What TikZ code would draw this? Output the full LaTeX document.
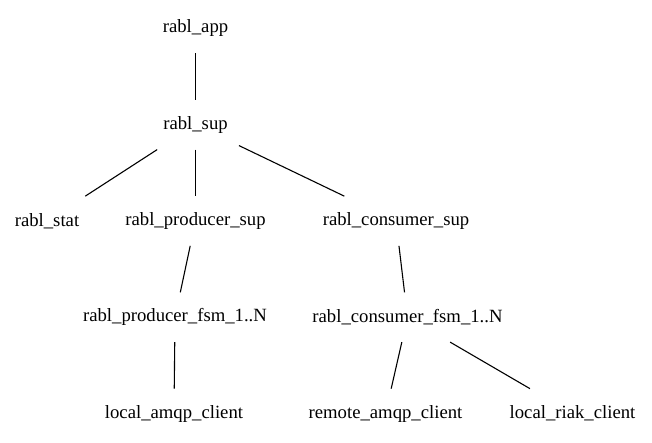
\documentclass[tikz,border=0pt]{standalone}
\usepackage{fontspec}
\setmainfont{Liberation Serif}
\usepackage{tikz}

\tikzset{proc/.style={rectangle, minimum height=48.6pt, inner xsep=10.7pt,
  font=\fontsize{18.7}{22}\selectfont}}

\begin{document}
\begin{tikzpicture}[-,auto,node distance=96.25pt,line width=1.1pt,x=1pt,y=1pt]
\useasboundingbox (0,0) rectangle (652,-443);

\node[proc] (app) at (195.5,-28.5) {rabl\_app};
\node[proc] (sup) [below of=app] {rabl\_sup};

\node[proc] (stat)    [below of=sup, xshift=-148.5pt] {rabl\_stat};
\node[proc] (prodsup) [below of=sup]                  {rabl\_producer\_sup};
\node[proc] (conssup) [below of=sup, xshift=200.5pt]  {rabl\_consumer\_sup};

\node[proc] (prodfsm) [below of=prodsup, xshift=-20.5pt] {rabl\_producer\_fsm\_1..N};
\node[proc] (consfsm) [below of=conssup, xshift=11.5pt]  {rabl\_consumer\_fsm\_1..N};

\node[proc] (lamqp) [below of=prodfsm, xshift=-1pt]  {local\_amqp\_client};
\node[proc] (ramqp) [below of=consfsm, xshift=-22pt] {remote\_amqp\_client};
\node[proc] (lriak) [below of=consfsm, xshift=165pt] {local\_riak\_client};

\path
	(app) edge (sup)
	(sup) edge (stat)
	(sup) edge (prodsup)
	(sup) edge (conssup);
\path
	(prodsup) edge (prodfsm)
	(conssup) edge (consfsm)
	(prodfsm) edge (lamqp)
	(consfsm) edge (ramqp)
	(consfsm) edge (lriak);
\end{tikzpicture}
\end{document}
